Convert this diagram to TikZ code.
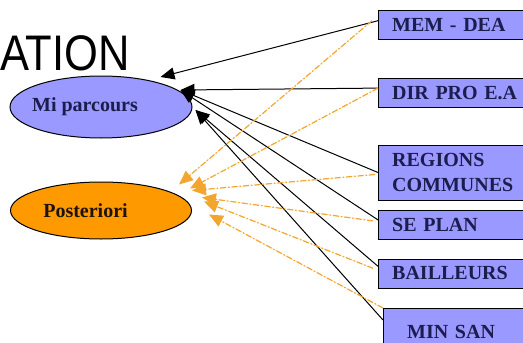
\documentclass[tikz,border=0pt]{standalone}
\usepackage{fontspec}
\setmainfont{Liberation Serif}
\newfontfamily\titlefont{Liberation Sans}
\usepackage{tikz}
\usetikzlibrary{shapes.geometric, positioning, calc, arrows.meta}
\definecolor{boxblue}{RGB}{153,153,255}
\definecolor{postorange}{RGB}{255,153,0}
\definecolor{arroworange}{RGB}{243,166,45}
\definecolor{textblue}{RGB}{28,28,78}

\begin{document}
\begin{tikzpicture}[x=1pt, y=-1pt,
    acteur/.style={rectangle,
      draw,
      fill=boxblue,
      text=textblue,
      font=\bfseries\fontsize{20}{25}\selectfont,
      text width=150pt,
      align=left,
      inner xsep=14pt,
      minimum height=29pt},
    phase/.style={ellipse,
      draw,
      line width=1pt,
      inner sep=0pt,
      font=\bfseries\fontsize{20}{24}\selectfont},
    lien/.style={-{Triangle[length=14pt,width=12pt]},
      line width=1pt},
    lienpost/.style={-{Triangle[length=14pt,width=12pt]},
      draw=arroworange,
      fill=arroworange,
      line width=1.2pt,
      dash pattern=on 6pt off 2pt on 1.5pt off 2pt}]
  \useasboundingbox (0,0) rectangle (523,343);
  \clip (0,0) rectangle (523,343);

  % TITLE

  \node[anchor=base west, inner sep=0pt, xscale=0.87,
    font=\titlefont\fontsize{50}{50}\selectfont] (title) at (0,70) {ATION};

  % PHASES

  \node[phase,
    fill=boxblue,
    text=textblue,
    minimum width=182pt,
    minimum height=62pt] (miparcours) at (101,107) {\hspace*{-32pt}Mi parcours};

  \node[phase,
    fill=postorange,
    text=black!85!brown,
    minimum width=181pt,
    minimum height=57pt,
    below=43pt of miparcours] (posteriori) {\hspace*{-31pt}Posteriori};

  % ACTEURS

  \node[acteur, anchor=north west] (memdea) at (378,10) {MEM - DEA};

  \node[acteur,
    below=39pt of memdea.south west,
    anchor=north west] (dirpro) {DIR PRO E.A};

  \node[acteur,
    minimum height=55pt,
    below=37pt of dirpro.south west,
    anchor=north west] (regions) {REGIONS\\COMMUNES};

  \node[acteur,
    below=10pt of regions.south west,
    anchor=north west] (seplan) {SE PLAN};

  \node[acteur,
    below=19pt of seplan.south west,
    anchor=north west] (bailleurs) {BAILLEURS};

  \node[acteur,
    inner xsep=24pt,
    minimum height=48pt,
    below=20pt of bailleurs.south west,
    xshift=5pt,
    anchor=north west] (minsan) {MIN SAN};

  % LIENS MI PARCOURS

  \draw[lien] ([yshift=4pt]memdea.west) -- ([xshift=-32pt,yshift=30pt]miparcours.east);
  \draw[lien] ([yshift=5pt]dirpro.west) -- ([xshift=-12pt,yshift=17pt]miparcours.east);
  \draw[lien] (regions.west) -- ([xshift=-12pt,yshift=17pt]miparcours.east);
  \draw[lien] ([yshift=5pt]seplan.west) -- ([xshift=-12pt,yshift=17pt]miparcours.east);
  \draw[lien] ([yshift=7pt]bailleurs.west) -- ([xshift=3pt,yshift=-3pt]miparcours.east);
  \draw[lien] ([yshift=-12pt]minsan.north west) -- ([xshift=3pt,yshift=-3pt]miparcours.east);

  % LIENS POSTERIORI

  \draw[lienpost] ([xshift=-6pt,yshift=4pt]memdea.west) -- ([xshift=-13pt,yshift=26pt]posteriori.east);
  \draw[lienpost] ([yshift=5pt]dirpro.west) -- ([xshift=-2pt,yshift=22pt]posteriori.east);
  \draw[lienpost] ([xshift=-3pt,yshift=-2pt]regions.west) -- ([xshift=0pt,yshift=20pt]posteriori.east);
  \draw[lienpost] ([xshift=-5pt,yshift=4pt]seplan.west) -- ([xshift=10pt,yshift=13pt]posteriori.east);
  \draw[lienpost] ([xshift=-5pt,yshift=5pt]bailleurs.west) -- ([xshift=12pt,yshift=9pt]posteriori.east);
  \draw[lienpost] (minsan.north west) -- ([xshift=17pt,yshift=-4pt]posteriori.east);

\end{tikzpicture}
\end{document}
